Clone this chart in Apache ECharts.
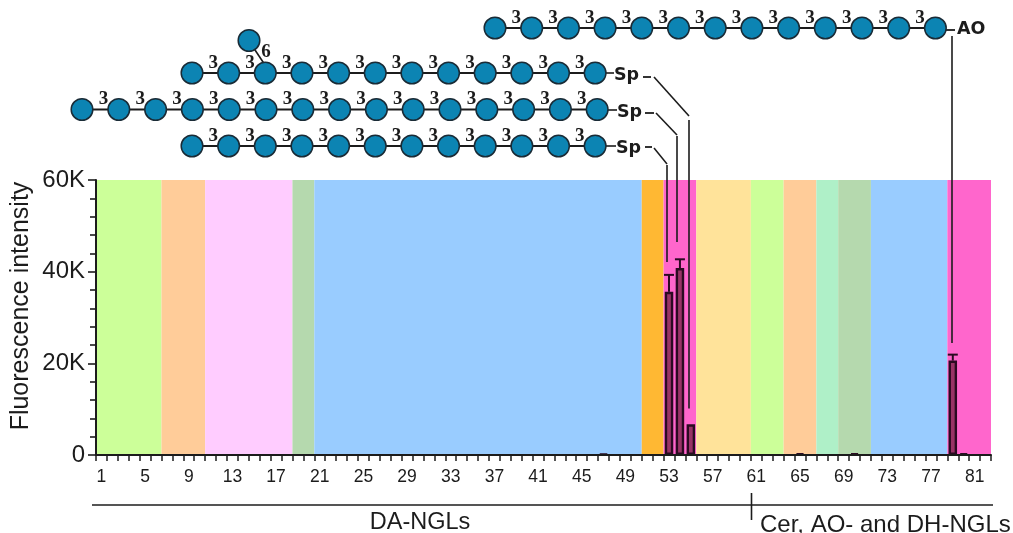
<!DOCTYPE html>
<html><head><meta charset="utf-8">
<style>html,body{margin:0;padding:0;background:#fff}#c{width:1013px;height:533px}</style>
<script src="https://cdn.jsdelivr.net/npm/echarts@6/dist/echarts.min.js"></script>
</head><body><div id="c"></div>
<script>
const categoryCount = 82;
const categories = Array.from({length: categoryCount}, (_, i) => String(i + 1));
const bandFirst = [1, 7, 11, 19, 21, 51, 53, 56, 61, 64, 67, 69, 72, 79];
const bandLast  = [6, 10, 18, 20, 50, 52, 55, 60, 63, 66, 68, 71, 78, 82];
const bandColors = ['#CCFF99','#FFCC99','#FFCCFF','#B5D9AE','#99CCFF','#FFB833','#FF66CC','#FFE39A','#CCFF99','#FFCC99','#AFF0C8','#B5D9AE','#99CCFF','#FF66CC'];
const barCategories = ['47','53','54','55','65','70','79','80'];
const barValues     = [200, 35600, 40800, 6700, 300, 300, 20600, 300];
const errorCategories = ['53','54','79'];
const errorLow  = [35600, 40800, 20600];
const errorHigh = [39300, 42700, 21900];
const yMax = 60000, yStep = 20000;
const chainLengths = [13, 12, 15, 12];

const chart = echarts.init(document.getElementById('c'), null, {renderer: 'canvas'});

const SANS = '"Liberation Sans", Arial, sans-serif';
const INK = '#1c1c1c';
function line(x1, y1, x2, y2, w, z) {
  return {type: 'line', shape: {x1, y1, x2, y2}, style: {stroke: INK, lineWidth: w || 1.6}, z: z || 20, silent: true};
}
function txt(t, x, y, font, extra) {
  return {type: 'text', x, y, z: 21, silent: true,
    style: Object.assign({text: t, font, fill: INK, align: 'left', verticalAlign: 'middle'}, extra || {})};
}
function chain(x0, y, step, n, g) {
  for (let i = 0; i < n - 1; i++) {
    const xa = x0 + i * step;
    g.push(line(xa, y, xa + step, y, 2, 20));
    g.push(txt('3', xa + step / 2 + 3, y - 10, 'bold 19px "Liberation Serif", serif', {align: 'center'}));
  }
  for (let i = 0; i < n; i++) {
    g.push({type: 'circle', shape: {cx: x0 + i * step, cy: y, r: 10.8}, z: 22, silent: true,
      style: {fill: '#0C84B3', stroke: '#1a2b36', lineWidth: 1.5}});
  }
}
const gfx = [];
chain(495, 28, 36.7, chainLengths[0], gfx);
chain(192, 73, 36.65, chainLengths[1], gfx);
chain(82, 109.5, 36.8, chainLengths[2], gfx);
chain(192, 146, 36.65, chainLengths[3], gfx);
// branch
gfx.push(line(249, 41, 265, 65, 1.6, 20));
gfx.push({type: 'circle', shape: {cx: 249, cy: 40.5, r: 10.8}, z: 22, silent: true, style: {fill: '#0C84B3', stroke: '#1a2b36', lineWidth: 1.5}});
gfx.push(txt('6', 266, 52, 'bold 19px "Liberation Serif", serif', {align: 'center'}));
// spacer labels
const LAB = 'bold 17.5px "DejaVu Sans", sans-serif';
gfx.push(txt('Sp', 614, 75, LAB), line(605, 73, 614, 73), line(643, 77, 651, 77, 1.8));
gfx.push(txt('Sp', 617, 112, LAB), line(606, 110, 617, 110), line(645, 113, 654, 113, 1.8));
gfx.push(txt('Sp', 616, 148, LAB), line(606, 146, 616, 146), line(645, 147, 652, 147, 1.8));
gfx.push(txt('AO', 957, 29, LAB), line(945, 30, 955, 30, 1.8));
// leader lines
gfx.push(line(654, 77, 689, 116), line(689, 120, 689, 408.5));
gfx.push(line(656, 113, 677, 135), line(677, 136, 677, 242));
gfx.push(line(654, 148, 667, 164), line(667, 165, 667, 262));
gfx.push(line(952, 36, 952, 343));
// group rule and captions
gfx.push(line(92, 505, 993, 505), line(751.5, 493, 751.5, 520));
gfx.push(txt('DA-NGLs', 420, 523, '23.5px ' + SANS, {align: 'center'}));
gfx.push(txt('Cer, AO- and DH-NGLs', 760, 525, '24px ' + SANS));
gfx.push(txt('Fluorescence intensity', 21, 306, '25px ' + SANS, {align: 'center'}));
gfx[gfx.length - 1].rotation = Math.PI / 2;

const bandData = bandFirst.map((f, i) => [f - 1, bandLast[i] - 1, yMax, i]);

chart.setOption({
  animation: false,
  backgroundColor: '#fff',
  grid: {left: 96, right: 22, top: 180, bottom: 78, containLabel: false},
  xAxis: {
    type: 'category', data: categories, z: 6,
    axisLine: {lineStyle: {color: INK, width: 2}},
    axisTick: {show: true, interval: 0, length: 6, alignWithLabel: false, lineStyle: {color: INK, width: 1.5}},
    axisLabel: {interval: 3, margin: 13, fontFamily: 'Liberation Sans', fontSize: 17.5, color: INK},
    splitLine: {show: false}
  },
  yAxis: {
    type: 'value', min: 0, max: yMax, interval: yStep, z: 6,
    axisLine: {show: true, lineStyle: {color: INK, width: 2}},
    axisTick: {show: true, length: 8, lineStyle: {color: INK, width: 1.6}},
    minorTick: {show: true, splitNumber: 5, length: 6, lineStyle: {color: INK, width: 1.6}},
    splitLine: {show: false}, minorSplitLine: {show: false},
    axisLabel: {margin: 11, fontFamily: 'Liberation Sans', fontSize: 24, color: INK, padding: [0, 0, 5, 0],
      formatter: v => v === 0 ? '0' : (v / 1000) + 'K'}
  },
  series: [
    {
      type: 'custom', z: 1, silent: true, clip: false,
      encode: {x: 0, y: 2},
      data: bandData,
      renderItem(params, api) {
        const a = api.coord([api.value(0), 0]);
        const b = api.coord([api.value(1), api.value(2)]);
        const w = api.size([1, 0])[0];
        return {type: 'rect', shape: {x: a[0] - w / 2, y: b[1], width: b[0] - a[0] + w, height: a[1] - b[1]},
          style: {fill: bandColors[api.value(3)]}};
      }
    },
    {
      type: 'bar', z: 3, barWidth: 8.5,
      data: barCategories.map((c, i) => [c, barValues[i]]),
      itemStyle: {color: '#993366', borderColor: '#2b0a22', borderWidth: 2.4}
    },
    {
      type: 'custom', z: 4, silent: true,
      encode: {x: 0, y: [1, 2]},
      data: errorCategories.map((c, i) => [c, errorLow[i], errorHigh[i]]),
      renderItem(params, api) {
        const lo = api.coord([api.value(0), api.value(1)]);
        const hi = api.coord([api.value(0), api.value(2)]);
        const st = {stroke: '#2b0a22', lineWidth: 2, fill: 'none'};
        return {type: 'group', children: [
          {type: 'line', shape: {x1: lo[0], y1: lo[1], x2: hi[0], y2: hi[1]}, style: st},
          {type: 'line', shape: {x1: hi[0] - 5, y1: hi[1], x2: hi[0] + 5, y2: hi[1]}, style: st}
        ]};
      }
    }
  ],
  graphic: {elements: gfx}
});
</script>
</body></html>
